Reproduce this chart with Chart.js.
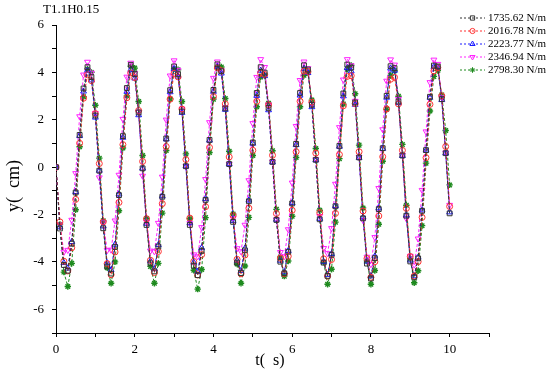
<!DOCTYPE html>
<html>
<head>
<meta charset="utf-8">
<title>T1.1H0.15</title>
<script src="https://cdn.jsdelivr.net/npm/chart.js@4.4.1/dist/chart.umd.min.js"></script>
<style>
  html, body { margin: 0; padding: 0; background: #fff; }
</style>
</head>
<body>
<canvas id="chart" width="550" height="370"></canvas>
<script>
// Displacement time histories for five stiffness values (case T1.1H0.15).
// Values, one sample every 0.1 s.

const times = [
  0, 0.1, 0.2, 0.3, 0.4, 0.5, 0.6, 0.7, 0.8, 0.9, 1.0,
  1.1, 1.2, 1.3, 1.4, 1.5, 1.6, 1.7, 1.8, 1.9, 2.0, 2.1,
  2.2, 2.3, 2.4, 2.5, 2.6, 2.7, 2.8, 2.9, 3.0, 3.1, 3.2,
  3.3, 3.4, 3.5, 3.6, 3.7, 3.8, 3.9, 4.0, 4.1, 4.2, 4.3,
  4.4, 4.5, 4.6, 4.7, 4.8, 4.9, 5.0, 5.1, 5.2, 5.3, 5.4,
  5.5, 5.6, 5.7, 5.8, 5.9, 6.0, 6.1, 6.2, 6.3, 6.4, 6.5,
  6.6, 6.7, 6.8, 6.9, 7.0, 7.1, 7.2, 7.3, 7.4, 7.5, 7.6,
  7.7, 7.8, 7.9, 8.0, 8.1, 8.2, 8.3, 8.4, 8.5, 8.6, 8.7,
  8.8, 8.9, 9.0, 9.1, 9.2, 9.3, 9.4, 9.5, 9.6, 9.7, 9.8,
  9.9, 10.0
];

const y1735 = [
  0, -2.59, -4.13, -4.37, -3.23, -1.07, 1.36, 3.32, 4.22, 3.80, 2.18,
  -0.15, -2.58, -4.19, -4.49, -3.37, -1.18, 1.31, 3.34, 4.32, 3.93, 2.31,
  -0.05, -2.44, -4.06, -4.40, -3.35, -1.25, 1.21, 3.25, 4.25, 3.92, 2.35,
  0.04, -2.44, -4.16, -4.56, -3.53, -1.38, 1.15, 3.26, 4.34, 4.05, 2.48,
  0.13, -2.31, -4.03, -4.47, -3.51, -1.44, 1.04, 3.13, 4.22, 3.99, 2.50,
  0.22, -2.23, -3.99, -4.48, -3.57, -1.53, 0.98, 3.13, 4.30, 4.12, 2.63,
  0.31, -2.20, -4.03, -4.59, -3.70, -1.65, 0.90, 3.11, 4.33, 4.20, 2.73,
  0.41, -2.16, -4.07, -4.70, -3.84, -1.77, 0.80, 3.01, 4.26, 4.18, 2.77,
  0.49, -2.05, -3.98, -4.65, -3.85, -1.84, 0.72, 2.97, 4.29, 4.25, 2.87,
  0.59, -1.95
];

const y2016 = [
  0, -2.31, -3.97, -4.38, -3.40, -1.36, 1.01, 2.91, 3.90, 3.65, 2.26,
  0.15, -2.31, -4.07, -4.54, -3.58, -1.49, 0.95, 2.93, 3.98, 3.78, 2.39,
  0.24, -2.18, -3.93, -4.45, -3.56, -1.54, 0.87, 2.87, 3.96, 3.81, 2.45,
  0.32, -2.15, -3.98, -4.55, -3.69, -1.67, 0.83, 2.98, 4.19, 4.07, 2.67,
  0.43, -2.04, -3.89, -4.50, -3.71, -1.73, 0.71, 2.78, 3.97, 3.91, 2.62,
  0.50, -1.96, -3.84, -4.50, -3.76, -1.82, 0.65, 2.78, 4.05, 4.04, 2.75,
  0.59, -1.92, -3.87, -4.60, -3.90, -1.95, 0.53, 2.59, 3.83, 3.86, 2.68,
  0.65, -1.85, -3.86, -4.65, -3.99, -2.06, 0.44, 2.46, 3.71, 3.79, 2.67,
  0.71, -1.74, -3.77, -4.60, -3.99, -2.12, 0.40, 2.65, 4.06, 4.20, 3.01,
  0.87, -1.66
];

const y2223 = [
  0, -2.53, -4.04, -4.27, -3.15, -1.04, 1.32, 3.20, 4.08, 3.67, 2.10,
  -0.14, -2.49, -4.05, -4.34, -3.26, -1.14, 1.25, 3.19, 4.12, 3.75, 2.20,
  -0.05, -2.38, -3.97, -4.30, -3.28, -1.22, 1.18, 3.17, 4.15, 3.83, 2.30,
  0.04, -2.36, -4.02, -4.41, -3.41, -1.34, 1.13, 3.19, 4.24, 3.96, 2.43,
  0.13, -2.26, -3.94, -4.37, -3.43, -1.40, 1.00, 3.02, 4.08, 3.85, 2.41,
  0.21, -2.21, -3.94, -4.43, -3.53, -1.51, 0.94, 3.03, 4.16, 3.98, 2.54,
  0.30, -2.17, -3.99, -4.54, -3.66, -1.63, 0.87, 3.00, 4.19, 4.05, 2.64,
  0.40, -2.12, -3.98, -4.60, -3.76, -1.73, 0.78, 2.94, 4.17, 4.08, 2.71,
  0.48, -2.03, -3.93, -4.60, -3.81, -1.82, 0.71, 2.94, 4.24, 4.21, 2.84,
  0.59, -1.90
];

const y2346 = [
  0, -2.43, -3.58, -3.50, -2.23, -0.26, 2.14, 3.90, 4.44, 3.98, 2.28,
  -0.44, -2.34, -3.51, -3.49, -2.26, -0.33, 2.03, 3.81, 4.40, 3.97, 2.33,
  -0.37, -2.31, -3.53, -3.56, -2.36, -0.41, 2.00, 3.86, 4.50, 4.10, 2.46,
  0.04, -2.37, -3.69, -3.77, -2.54, -0.51, 1.89, 3.76, 4.45, 4.09, 2.51,
  0.13, -2.16, -3.43, -3.56, -2.44, -0.56, 1.85, 3.80, 4.55, 4.22, 2.64,
  0.23, -2.21, -3.59, -3.77, -2.63, -0.66, 1.73, 3.67, 4.45, 4.17, 2.66,
  0.32, -2.07, -3.42, -3.64, -2.58, -0.71, 1.68, 3.69, 4.55, 4.29, 2.79,
  0.42, -2.24, -3.79, -4.10, -2.96, -0.89, 1.59, 3.64, 4.54, 4.32, 2.87,
  0.51, -2.17, -3.75, -4.12, -3.02, -0.97, 1.50, 3.58, 4.53, 4.35, 2.94,
  0.61, -1.60
];

const y2798 = [
  0, -2.42, -4.43, -5.04, -4.06, -1.80, 0.86, 2.97, 4.14, 4.00, 2.61,
  0.38, -2.26, -4.25, -4.90, -4.00, -1.84, 0.81, 3.01, 4.26, 4.18, 2.77,
  0.49, -2.17, -4.19, -4.90, -4.06, -1.94, 0.70, 2.88, 4.15, 4.11, 2.77,
  0.56, -2.18, -4.35, -5.15, -4.32, -2.13, 0.62, 2.87, 4.22, 4.23, 2.90,
  0.67, -1.98, -4.09, -4.90, -4.17, -2.12, 0.49, 2.55, 3.81, 3.87, 2.70,
  0.69, -1.78, -3.79, -4.60, -3.96, -2.07, 0.41, 2.55, 3.88, 3.99, 2.83,
  0.79, -1.82, -4.01, -4.94, -4.31, -2.32, 0.36, 2.66, 4.13, 4.29, 3.10,
  0.93, -1.72, -3.95, -4.94, -4.36, -2.41, 0.25, 2.44, 3.87, 4.07, 2.99,
  0.96, -1.61, -3.85, -4.88, -4.37, -2.47, 0.17, 2.37, 3.83, 4.08, 3.05,
  1.55, -0.75
];

const seriesLabels = ["1735.62 N/m", "2016.78 N/m", "2223.77 N/m", "2346.94 N/m", "2798.30 N/m"];
const seriesValues = [y1735, y2016, y2223, y2346, y2798];
const seriesColors = ["#333333", "#ff3030", "#1a1aff", "#ff22ff", "#1e8a1e"];
const seriesMarkers = ["rect", "circle", "triangle", "triangle", "star"];
const markerRotation = [0, 0, 0, 180, 0];
const markerRadius = [3.4, 3, 3.4, 3.4, 3.2];

const FONT = "'Liberation Serif', 'Times New Roman', serif";

function toPoints(vals) {
  return vals.map((v, i) => ({ x: times[i], y: v }));
}

const datasets = seriesValues.map((vals, i) => ({
  label: seriesLabels[i],
  data: toPoints(vals),
  borderColor: seriesColors[i],
  backgroundColor: "rgba(255,255,255,0)",
  borderWidth: 1,
  borderDash: [3, 2],
  pointStyle: seriesMarkers[i],
  pointRotation: markerRotation[i],
  pointRadius: markerRadius[i],
  pointBorderWidth: i === 4 ? 1.4 : 1,
  pointBorderColor: seriesColors[i],
  pointBackgroundColor: "rgba(255,255,255,0)",
  tension: 0,
}));

// own marker drawing for the legend, same shapes as Chart.js uses
function drawMarker(ctx, style, x, y, r, rot, color, lw) {
  ctx.save();
  ctx.translate(x, y);
  ctx.rotate(rot * Math.PI / 180);
  ctx.setLineDash([]);
  ctx.strokeStyle = color;
  ctx.lineWidth = lw;
  ctx.beginPath();
  if (style === "rect") {
    const s = r * Math.SQRT1_2;
    ctx.rect(-s, -s, 2 * s, 2 * s);
  } else if (style === "circle") {
    ctx.arc(0, 0, r, 0, Math.PI * 2);
  } else if (style === "triangle") {
    for (let k = 0; k < 3; k++) {
      const a = k * 2 * Math.PI / 3;
      const px = Math.sin(a) * r, py = -Math.cos(a) * r;
      if (k === 0) ctx.moveTo(px, py); else ctx.lineTo(px, py);
    }
    ctx.closePath();
  } else if (style === "star") {
    for (let k = 0; k < 4; k++) {
      const a = k * Math.PI / 4;
      ctx.moveTo(Math.cos(a) * r, Math.sin(a) * r);
      ctx.lineTo(-Math.cos(a) * r, -Math.sin(a) * r);
    }
  }
  ctx.stroke();
  ctx.restore();
}

const textPlugin = {
  id: "texts",
  afterDraw(chart) {
    const ctx = chart.ctx;
    ctx.save();
    ctx.fillStyle = "#000";

    // case label, top left
    ctx.font = "13px " + FONT;
    ctx.textAlign = "left";
    ctx.textBaseline = "middle";
    ctx.fillText("T1.1H0.15", 43, 10);

    // axis titles
    ctx.font = "16px " + FONT;
    ctx.textAlign = "center";
    ctx.fillText("t(  s)", 270, 361);
    ctx.save();
    ctx.translate(14, 186);
    ctx.rotate(-Math.PI / 2);
    ctx.font = "18px " + FONT;
    ctx.fillText("y(  cm)", 0, 0);
    ctx.restore();

    // legend, top right
    ctx.font = "11px " + FONT;
    ctx.textAlign = "left";
    for (let i = 0; i < seriesLabels.length; i++) {
      const y = 18 + 13 * i;
      ctx.save();
      ctx.strokeStyle = seriesColors[i];
      ctx.lineWidth = 1;
      ctx.setLineDash([2, 2]);
      ctx.beginPath();
      ctx.moveTo(460, y);
      ctx.lineTo(485, y);
      ctx.stroke();
      ctx.restore();
      drawMarker(ctx, seriesMarkers[i], 472.5, y, markerRadius[i] - 0.4, markerRotation[i], seriesColors[i], 1);
      ctx.fillStyle = "#000";
      ctx.fillText(seriesLabels[i], 488, y);
    }
    ctx.restore();
  },
};

const tickFont = { family: FONT, size: 13 };

new Chart(document.getElementById("chart"), {
  type: "line",
  data: { datasets },
  options: {
    responsive: false,
    animation: false,
    devicePixelRatio: 1,
    layout: { padding: { left: 0, right: 61, top: 25, bottom: 0 } },
    plugins: { legend: { display: false }, tooltip: { enabled: false } },
    scales: {
      x: {
        type: "linear",
        min: 0,
        max: 11,
        ticks: {
          stepSize: 1,
          autoSkip: false,
          maxRotation: 0,
          padding: 5,
          color: "#000",
          font: tickFont,
          callback: (v) => (v % 2 === 0 ? String(v) : ""),
        },
        grid: { drawOnChartArea: false, drawTicks: true, tickLength: 4, color: "#000" },
        border: { display: true, color: "#000", width: 1 },
        afterFit: (s) => { s.height = 37; },
      },
      y: {
        min: -7,
        max: 6,
        ticks: {
          stepSize: 1,
          autoSkip: false,
          padding: 8,
          color: "#000",
          font: tickFont,
          callback: (v) => (v % 2 === 0 ? String(v) : ""),
        },
        grid: { drawOnChartArea: false, drawTicks: true, tickLength: 4, color: "#000" },
        border: { display: true, color: "#000", width: 1 },
        afterFit: (s) => { s.width = 56; },
      },
    },
  },
  plugins: [textPlugin],
});
</script>
</body>
</html>
